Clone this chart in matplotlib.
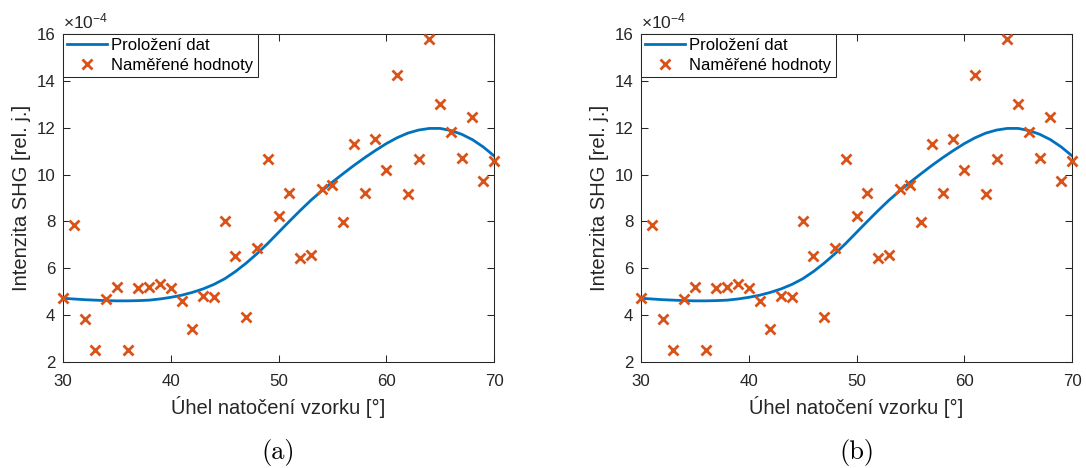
import numpy as np
import matplotlib
matplotlib.use("Agg")
import matplotlib.pyplot as plt

# ---- data (intensity in units of 1e-4) ----
angles = list(range(30, 71))
measured = [4.72, 7.83, 3.83, 2.50, 4.69, 5.19, 2.50, 5.16, 5.21, 5.32,
            5.16, 4.61, 3.39, 4.81, 4.78, 8.03, 6.54, 3.94, 6.87, 10.65,
            8.24, 9.20, 6.44, 6.57, 9.38, 9.55, 7.97, 11.29, 9.23, 11.53,
            10.19, 14.24, 9.18, 10.66, 15.77, 13.01, 11.80, 10.71, 12.47, 9.72,
            10.58]
fit_curve = [4.72, 4.69, 4.66, 4.64, 4.62, 4.61, 4.61, 4.62, 4.64, 4.69,
             4.76, 4.85, 4.97, 5.12, 5.31, 5.55, 5.86, 6.22, 6.62, 7.06,
             7.53, 8.00, 8.46, 8.90, 9.30, 9.68, 10.04, 10.39, 10.72, 11.03,
             11.32, 11.57, 11.77, 11.90, 11.97, 11.97, 11.88, 11.72, 11.49, 11.18,
             10.80]
xticks = [30, 40, 50, 60, 70]
yticks = [2, 4, 6, 8, 10, 12, 14, 16]
panel_labels = ["(a)", "(b)"]
legend_labels = ["Proložení dat", "Naměřené hodnoty"]
xlabel = "Úhel natočení vzorku [°]"
ylabel = "Intenzita SHG [rel. j.]"

plt.rcParams['font.family'] = ['Liberation Sans', 'DejaVu Sans']
plt.rcParams['mathtext.default'] = 'regular'

W, H = 1086, 468
fig = plt.figure(figsize=(W / 100, H / 100), dpi=100)

blue = '#0072BD'
orange = '#D95319'
axcol = '#262626'

lefts = [63, 641]
for i, lx in enumerate(lefts):
    ax = fig.add_axes([lx / W, (H - 362) / H, 431 / W, 328 / H])
    ax.plot(angles, fit_curve, color=blue, lw=2.0, label=legend_labels[0])
    ax.plot(angles, measured, ls='none', marker='x', ms=6.5, mew=2.0,
            color=orange, label=legend_labels[1], clip_on=False, zorder=3)
    ax.set_xlim(30, 70)
    ax.set_ylim(2, 16)
    ax.set_xticks(xticks)
    ax.set_yticks(yticks)
    ax.tick_params(direction='in', top=True, right=True, length=5,
                   width=0.75, colors=axcol, labelsize=12.2)
    ax.tick_params(axis='x', pad=8.5)
    ax.tick_params(axis='y', pad=5.5)
    for s in ax.spines.values():
        s.set_color(axcol)
        s.set_linewidth(0.75)
    ax.set_xlabel(xlabel, fontsize=14.5, color=axcol, labelpad=5)
    ax.set_ylabel(ylabel, fontsize=14.5, color=axcol, labelpad=4)
    ax.text(0.0, 1.008, r'$\times$10$^{-4}$', transform=ax.transAxes,
            ha='left', va='bottom', fontsize=12.5, color=axcol)
    leg = ax.legend(loc='upper left', borderaxespad=0, fancybox=False,
                    framealpha=1, edgecolor=axcol, fontsize=12,
                    handlelength=2.4, handletextpad=0.25, borderpad=0.25,
                    labelspacing=0.3)
    leg.get_frame().set_linewidth(0.75)
    fig.text((lx + 215.5) / W, (H - 452) / H, panel_labels[i],
             family='cmr10', fontsize=19, ha='center', va='center')

fig.savefig('out.png', dpi=100)
